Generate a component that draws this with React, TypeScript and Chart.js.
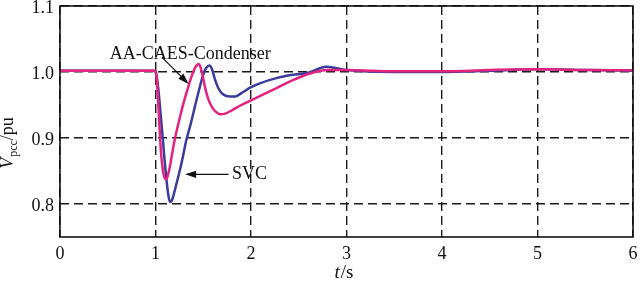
import React, { useEffect, useRef } from "react";
import { Chart, registerables } from "chart.js";

Chart.register(...registerables);

// ---- data ----
const seriesNames = ["AA-CAES-Condenser", "SVC"];

const timesCondenser = [
  0, 0.5, 0.99, 1.0, 1.01, 1.02, 1.035, 1.048, 1.06, 1.073, 1.085, 1.1, 1.115,
  1.13, 1.15, 1.175, 1.205, 1.25, 1.292, 1.33, 1.365, 1.395, 1.425, 1.45, 1.47,
  1.49, 1.52, 1.55, 1.59, 1.63, 1.68, 1.73, 1.8, 1.9, 2.0, 2.2, 2.4, 2.6, 2.8,
  3.0, 3.5, 4.0, 4.5, 5.0, 5.5, 6.0,
];
const vCondenser = [
  1.002, 1.002, 1.002, 1.001, 0.993, 0.975, 0.936, 0.9, 0.874, 0.856, 0.845,
  0.838, 0.838, 0.844, 0.856, 0.877, 0.9, 0.928, 0.952, 0.971, 0.988, 1.0,
  1.009, 1.012, 1.008, 0.997, 0.976, 0.96, 0.947, 0.94, 0.936, 0.937, 0.942,
  0.95, 0.957, 0.971, 0.985, 0.997, 1.003, 1.003, 1.001, 1.001, 1.003, 1.004,
  1.003, 1.0025,
];

const timesSVC = [
  0, 0.5, 0.99, 1.0, 1.01, 1.03, 1.05, 1.076, 1.09, 1.104, 1.12, 1.135, 1.153,
  1.17, 1.19, 1.22, 1.258, 1.29, 1.32, 1.37, 1.415, 1.46, 1.5, 1.53, 1.565,
  1.59, 1.62, 1.66, 1.7, 1.77, 1.834, 1.9, 2.0, 2.2, 2.4, 2.6, 2.79, 3.0, 3.5,
  4.0, 4.5, 5.0, 5.5, 6.0,
];
const vSVC = [
  1.002, 1.002, 1.002, 1.001, 0.995, 0.974, 0.942, 0.9, 0.875, 0.853, 0.83,
  0.813, 0.803, 0.805, 0.814, 0.831, 0.853, 0.874, 0.895, 0.922, 0.949, 0.975,
  0.996, 1.006, 1.01, 1.005, 0.99, 0.975, 0.967, 0.963, 0.963, 0.968, 0.977,
  0.988, 0.995, 0.999, 1.008, 1.003, 1.0, 1.0, 1.002, 1.004, 1.003, 1.002,
];

const xTicks = [0, 1, 2, 3, 4, 5, 6];
const yTicks = [0.8, 0.9, 1.0, 1.1];
const xRange = [0, 6];
const yRange = [0.75, 1.1];

const FONT = "'Liberation Serif', 'Times New Roman', serif";
const PINK = "#e4237f";
const BLUE = "#3a3c9c";

function drawArrow(ctx: CanvasRenderingContext2D, x1: number, y1: number, x2: number, y2: number) {
  const ang = Math.atan2(y2 - y1, x2 - x1);
  const len = 11;
  const hw = 3.6;
  ctx.beginPath();
  ctx.moveTo(x1, y1);
  ctx.lineTo(x2 - Math.cos(ang) * len * 0.8, y2 - Math.sin(ang) * len * 0.8);
  ctx.stroke();
  ctx.beginPath();
  ctx.moveTo(x2, y2);
  ctx.lineTo(x2 - Math.cos(ang) * len - Math.sin(ang) * hw, y2 - Math.sin(ang) * len + Math.cos(ang) * hw);
  ctx.lineTo(x2 - Math.cos(ang) * len + Math.sin(ang) * hw, y2 - Math.sin(ang) * len - Math.cos(ang) * hw);
  ctx.closePath();
  ctx.fill();
}

const decorPlugin = {
  id: "decor",
  afterDatasetsDraw(chart: any) {
    const { ctx, chartArea, scales } = chart;
    const xs = scales.x;
    const ys = scales.y;
    ctx.save();
    // frame
    ctx.strokeStyle = "#111";
    ctx.lineWidth = 1.6;
    ctx.setLineDash([]);
    ctx.strokeRect(chartArea.left, chartArea.top, chartArea.right - chartArea.left, chartArea.bottom - chartArea.top);

    // annotations
    ctx.fillStyle = "#111";
    ctx.strokeStyle = "#111";
    ctx.lineWidth = 1.2;
    ctx.font = `18px ${FONT}`;
    ctx.textBaseline = "alphabetic";
    ctx.textAlign = "center";
    ctx.fillText(seriesNames[0], xs.getPixelForValue(1.363), ys.getPixelForValue(1.0195));
    drawArrow(ctx, xs.getPixelForValue(1.066), ys.getPixelForValue(1.0226), xs.getPixelForValue(1.347), ys.getPixelForValue(0.982));

    ctx.textAlign = "left";
    ctx.fillText(seriesNames[1], xs.getPixelForValue(1.8), ys.getPixelForValue(0.845) + 5);
    drawArrow(ctx, xs.getPixelForValue(1.765), ys.getPixelForValue(0.845), xs.getPixelForValue(1.31), ys.getPixelForValue(0.845));

    // x title: t/s
    ctx.textAlign = "left";
    const xc = (chartArea.left + chartArea.right) / 2 - 3;
    ctx.font = `italic 19px ${FONT}`;
    const wt = ctx.measureText("t").width;
    ctx.font = `19px ${FONT}`;
    const ws = ctx.measureText("/s").width;
    const x0 = xc - (wt + ws) / 2;
    ctx.font = `italic 19px ${FONT}`;
    ctx.fillText("t", x0, 278);
    ctx.font = `19px ${FONT}`;
    ctx.fillText("/s", x0 + wt + 1, 278);

    // y title: V_pcc/pu
    ctx.translate(13, 143);
    ctx.rotate(-Math.PI / 2);
    ctx.font = `italic 18px ${FONT}`;
    const wV = ctx.measureText("V").width;
    ctx.font = `12px ${FONT}`;
    const wP = ctx.measureText("pcc").width;
    ctx.font = `18px ${FONT}`;
    const wU = ctx.measureText("/pu").width;
    const total = wV + wP + wU + 1;
    let cx = -total / 2;
    ctx.font = `italic 18px ${FONT}`;
    ctx.fillText("V", cx, 0);
    cx += wV + 1;
    ctx.font = `12px ${FONT}`;
    ctx.fillText("pcc", cx, 4);
    cx += wP;
    ctx.font = `18px ${FONT}`;
    ctx.fillText("/pu", cx, 0);
    ctx.restore();
  },
};

export default function App() {
  const ref = useRef<HTMLCanvasElement | null>(null);
  useEffect(() => {
    if (!ref.current) return;
    const chart = new Chart(ref.current, {
      type: "line",
      data: {
        datasets: [
          {
            label: seriesNames[0],
            data: timesCondenser.map((t, i) => ({ x: t, y: vCondenser[i] })),
            borderColor: PINK,
            borderWidth: 2.5,
            pointRadius: 0,
            cubicInterpolationMode: "monotone",
            order: 0,
          },
          {
            label: seriesNames[1],
            data: timesSVC.map((t, i) => ({ x: t, y: vSVC[i] })),
            borderColor: BLUE,
            borderWidth: 2.5,
            pointRadius: 0,
            cubicInterpolationMode: "monotone",
            order: 1,
          },
        ],
      },
      options: {
        animation: false,
        responsive: false,
        maintainAspectRatio: false,
        layout: { padding: { top: 6, right: 7, left: 0, bottom: 0 } },
        plugins: { legend: { display: false }, tooltip: { enabled: false } },
        scales: {
          x: {
            type: "linear",
            min: xRange[0],
            max: xRange[1],
            afterBuildTicks: (s: any) => {
              s.ticks = xTicks.map((v) => ({ value: v }));
            },
            afterFit: (s: any) => {
              s.height = 46;
              s.paddingLeft = 0;
              s.paddingRight = 0;
            },
            ticks: {
              color: "#111",
              font: { family: FONT, size: 18 },
              padding: 6,
              maxRotation: 0,
              autoSkip: false,
              callback: (v: any) => String(v),
            },
            grid: { color: "#1a1a1a", lineWidth: 1.4, drawTicks: false },
            border: { display: false, dash: [9, 5] },
          },
          y: {
            type: "linear",
            min: yRange[0],
            max: yRange[1],
            afterBuildTicks: (s: any) => {
              s.ticks = yTicks.map((v) => ({ value: v }));
            },
            afterFit: (s: any) => {
              s.width = 60;
              s.paddingTop = 0;
              s.paddingBottom = 0;
            },
            ticks: {
              color: "#111",
              font: { family: FONT, size: 18 },
              padding: 6,
              labelOffset: 2,
              callback: (v: any) => Number(v).toFixed(1),
            },
            grid: { color: "#1a1a1a", lineWidth: 1.4, drawTicks: false },
            border: { display: false, dash: [9, 5] },
          },
        },
      },
      plugins: [decorPlugin],
    });
    return () => chart.destroy();
  }, []);
  return (
    <div style={{ position: "fixed", left: 0, top: 0, width: 640, height: 283, background: "#fff" }}>
      <canvas ref={ref} width={640} height={283} style={{ width: 640, height: 283, display: "block" }} />
    </div>
  );
}
